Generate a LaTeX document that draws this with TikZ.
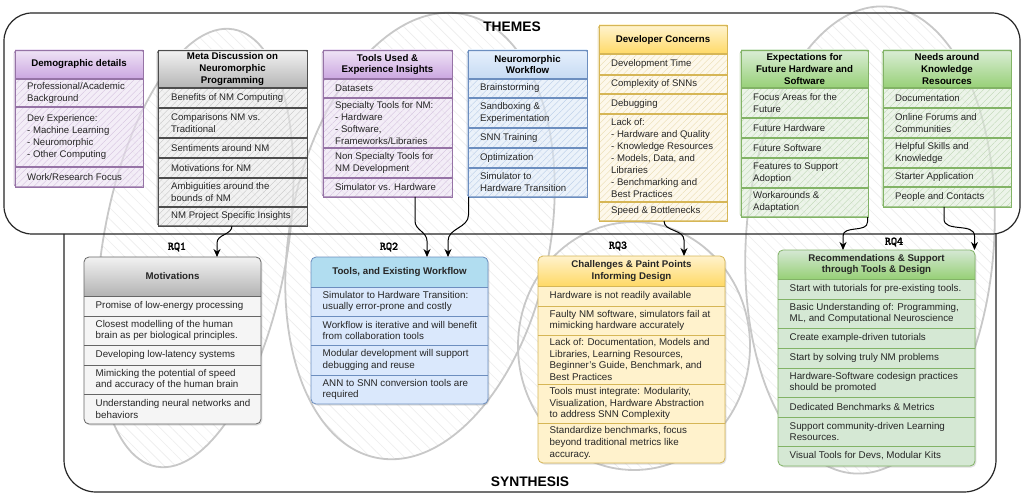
\documentclass[tikz,border=0pt]{standalone}
\usepackage{fontspec}
\setmainfont{Liberation Sans}
\newfontfamily\myrqfont{lmmono10-regular.otf}[FakeBold=2.2]
\usetikzlibrary{arrows.meta,patterns.meta,shadows,calc}

% theme colours
\definecolor{pfill}{HTML}{ECE2F2}\definecolor{phatch}{HTML}{D3C0DE}\definecolor{ptop}{HTML}{EFE3F6}\definecolor{pbot}{HTML}{CBA6E0}\definecolor{pline}{HTML}{9673A6}
\definecolor{gfill}{HTML}{EAEAEA}\definecolor{ghatch}{HTML}{C4C4C4}\definecolor{gtop}{HTML}{F2F2F2}\definecolor{gbot}{HTML}{B5B5B5}\definecolor{gline}{HTML}{4D4D4D}
\definecolor{bfill}{HTML}{DFEAF8}\definecolor{bhatch}{HTML}{B6CBE7}\definecolor{btop}{HTML}{E6F0FC}\definecolor{bbot}{HTML}{C6DAF3}\definecolor{bline}{HTML}{6C8EBF}
\definecolor{yfill}{HTML}{FCF4DE}\definecolor{yhatch}{HTML}{E9DBAE}\definecolor{ytop}{HTML}{FFF4D0}\definecolor{ybot}{HTML}{FFD966}\definecolor{yline}{HTML}{D6B656}
\definecolor{gnfill}{HTML}{E0EDDB}\definecolor{gnhatch}{HTML}{BDD6B3}\definecolor{gntop}{HTML}{DAEDD6}\definecolor{gnbot}{HTML}{97D077}\definecolor{gnline}{HTML}{82B366}
% synthesis colours
\definecolor{s1row}{HTML}{F5F5F5}\definecolor{s1top}{HTML}{F2F2F2}\definecolor{s1bot}{HTML}{B3B3B3}\definecolor{s1line}{HTML}{666666}
\definecolor{s2row}{HTML}{DAE8FC}\definecolor{s2top}{HTML}{B1DDF0}\definecolor{s2bot}{HTML}{B1DDF0}\definecolor{s2line}{HTML}{6C8EBF}
\definecolor{s3row}{HTML}{FFF2CC}\definecolor{s3top}{HTML}{FFF2CC}\definecolor{s3bot}{HTML}{FFD966}\definecolor{s3line}{HTML}{D6B656}
\definecolor{s4row}{HTML}{D5E8D4}\definecolor{s4top}{HTML}{D5E8D4}\definecolor{s4bot}{HTML}{97D077}\definecolor{s4line}{HTML}{82B366}
\definecolor{ellc}{HTML}{C8C8C8}\definecolor{hatchc}{HTML}{EDEDED}

\newcommand\mytfont{\fontsize{9.6}{12}\selectfont}
\newcommand\mythfont{\fontsize{9.7}{11.9}\selectfont\bfseries}
\newcommand\mysynfont{\fontsize{9.8}{11.9}\selectfont}

% theme box: name, prefix, x, y, w, h, header height, header text
\newcommand\mythemebox[8]{%
  \path[fill=#2fill, fill opacity=0.6] (#3,#4) rectangle ++(#5,#6);
  \path[pattern={Lines[angle=45,distance=4.5pt,line width=0.35pt]}, pattern color=#2hatch] (#3,#4) rectangle ++(#5,#6);
  \shade[top color=#2top, bottom color=#2bot] (#3,#4) rectangle ++(#5,#7);
  \draw[#2line, line width=1.2pt] ($(#3,#4)+(0,#7)$) -- ++(#5,0);
  \node[tframe, draw=#2line, minimum width=#5pt, minimum height=#6pt] (#1) at (#3,#4) {};
  \draw[#2line, line width=0.5pt, rounded corners=2pt] ($(#3,#4)+(-0.8,0.9)$) rectangle ($(#3,#4)+(#5+0.7,#6-0.6)$);
  \node[thtext] (#1h) at ($(#3,#4)+(#5/2,#7/2)$) {#8};
}
% theme separator: prefix, x, y, w
\newcommand\mytsep[4]{\draw[#1line, line width=1.1pt] (#2,#3) -- ++(#4,0);}
% synthesis box: name, prefix, x, y, w, h, header height, header text
\newcommand\mysynbox[8]{%
  \path[fill=#2row, rounded corners=5pt, sshadow] (#3,#4) rectangle ++(#5,#6);
  \begin{scope}
    \clip[rounded corners=5pt] (#3,#4) rectangle ++(#5,#6);
    \shade[top color=#2top, bottom color=#2bot] (#3,#4) rectangle ++(#5,#7);
  \end{scope}
  \draw[#2line, line width=0.8pt] ($(#3,#4)+(0,#7)$) -- ++(#5,0);
  \node[sframe, draw=#2line, minimum width=#5pt, minimum height=#6pt] (#1) at (#3,#4) {};
  \node[shtext] (#1h) at ($(#3,#4)+(#5/2,#7/2)$) {#8};
}
\newcommand\myssep[4]{\draw[#1line, line width=0.8pt] (#2,#3) -- ++(#4,0);}

\begin{document}
\begin{tikzpicture}[x=1pt,y=-1pt,
  container/.style={draw=black!85, line width=1.2pt},
  bgell/.style={pattern={Lines[angle=-45,distance=8pt,line width=0.6pt]}, pattern color=hatchc},
  bgline/.style={draw=ellc, line width=1.8pt},
  tframe/.style={anchor=north west, inner sep=0pt, outer sep=0pt, line width=0.9pt},
  sframe/.style={anchor=north west, inner sep=0pt, outer sep=0pt, line width=0.8pt, rounded corners=5pt},
  sshadow/.style={drop shadow={shadow xshift=1.3pt, shadow yshift=-1.5pt, opacity=0.25}},
  thtext/.style={inner sep=0pt, align=center, font=\mythfont},
  shtext/.style={inner sep=0pt, align=center, font=\mythfont, text=black!85},
  trtext/.style={anchor=west, inner sep=0pt, align=left, font=\mytfont, text=black!85},
  srtext/.style={anchor=west, inner sep=0pt, align=left, font=\mysynfont, text=black!85},
  rqlbl/.style={inner sep=0pt, font=\fontsize{11.5}{11.5}\selectfont\myrqfont},
  biglbl/.style={inner sep=0pt, font=\fontsize{13.8}{14}\selectfont\bfseries},
  conn/.style={draw=black, line width=1pt, -{Stealth[length=8pt,width=7pt]}}
]
\useasboundingbox (0,0) rectangle (1024,494);
\fill[white] (0,0) rectangle (1024,494);

% background ellipses
\path[bgell] (195,248) ellipse [x radius=92pt, y radius=222pt, rotate=-10];
\path[bgell] (420,236) ellipse [x radius=130pt, y radius=226pt, rotate=-11];
\path[bgell] (634,346) ellipse [x radius=116pt, y radius=124pt];
\path[bgell] (870,240) ellipse [x radius=124pt, y radius=234pt, rotate=-4];
\path[bgline] (195,248) ellipse [x radius=92pt, y radius=222pt, rotate=-10];
\path[bgline] (420,236) ellipse [x radius=130pt, y radius=226pt, rotate=-11];
\path[bgline] (634,346) ellipse [x radius=116pt, y radius=124pt];
\path[bgline] (870,240) ellipse [x radius=124pt, y radius=234pt, rotate=-4];

% containers
\node[container, rounded corners=28pt, minimum width=1016pt, minimum height=221pt, anchor=north west, inner sep=0pt, outer sep=0pt] (themes) at (4,13) {};
\draw[container, rounded corners=32pt] (64,234) -- (64,492) -- (996,492) -- (996,234);
\node[biglbl] (themeslbl) at (512,27) {THEMES};
\node[biglbl] (synlbl) at (530,482) {SYNTHESIS};

% ---------------- theme boxes ----------------
\mythemebox{dem}{p}{15}{50}{128}{137}{29}{Demographic details}
\mytsep{p}{15}{107}{128}\mytsep{p}{15}{167}{128}
\node[trtext] (dem1) at (27,93) {Professional/Academic\\Background};
\node[trtext] (dem2) at (27,137) {Dev Experience:\\- Machine Learning\\- Neuromorphic\\- Other Computing};
\node[trtext] (dem3) at (27,177) {Work/Research Focus};

\mythemebox{meta}{g}{158}{50}{149}{176}{38}{Meta Discussion on\\Neuromorphic\\Programming}
\mytsep{g}{158}{108}{149}\mytsep{g}{158}{138}{149}\mytsep{g}{158}{158}{149}\mytsep{g}{158}{178}{149}\mytsep{g}{158}{207}{149}
\node[trtext] (meta1) at (171,98) {Benefits of NM Computing};
\node[trtext] (meta2) at (171,123) {Comparisons NM vs.\\Traditional};
\node[trtext] (meta3) at (171,148) {Sentiments around NM};
\node[trtext] (meta4) at (171,168) {Motivations for NM};
\node[trtext] (meta5) at (171,192.5) {Ambiguities around the\\bounds of NM};
\node[trtext] (meta6) at (171,216.5) {NM Project Specific Insights};

\mythemebox{tools}{p}{323}{50}{129}{147}{29}{Tools Used \&\\Experience Insights}
\mytsep{p}{323}{98}{129}\mytsep{p}{323}{148}{129}\mytsep{p}{323}{178}{129}
\node[trtext] (tools1) at (335,88.5) {Datasets};
\node[trtext] (tools2) at (335,123) {Specialty Tools for NM:\\- Hardware\\- Software,\\Frameworks/Libraries};
\node[trtext] (tools3) at (335,163) {Non Specialty Tools for\\NM Development};
\node[trtext] (tools4) at (335,187.5) {Simulator vs. Hardware};

\mythemebox{wf}{b}{468}{50}{119}{147}{29}{Neuromorphic\\Workflow}
\mytsep{b}{468}{98}{119}\mytsep{b}{468}{128}{119}\mytsep{b}{468}{148}{119}\mytsep{b}{468}{168}{119}
\node[trtext] (wf1) at (480,88.5) {Brainstorming};
\node[trtext] (wf2) at (480,113) {Sandboxing \&\\Experimentation};
\node[trtext] (wf3) at (480,138) {SNN Training};
\node[trtext] (wf4) at (480,158) {Optimization};
\node[trtext] (wf5) at (480,182.5) {Simulator to\\Hardware Transition};

\mythemebox{dev}{y}{599}{25}{128}{196}{29}{Developer Concerns}
\mytsep{y}{599}{75}{128}\mytsep{y}{599}{94}{128}\mytsep{y}{599}{114}{128}\mytsep{y}{599}{202}{128}
\node[trtext] (dev1) at (611,64.5) {Development Time};
\node[trtext] (dev2) at (611,84.5) {Complexity of SNNs};
\node[trtext] (dev3) at (611,104) {Debugging};
\node[trtext] (dev4) at (611,158) {Lack of:\\- Hardware and Quality\\- Knowledge Resources\\- Models, Data, and\\Libraries\\- Benchmarking and\\Best Practices};
\node[trtext] (dev5) at (611,211.5) {Speed \& Bottlenecks};

\mythemebox{exp}{gn}{741}{50}{127}{167}{38}{Expectations for\\Future Hardware and\\Software}
\mytsep{gn}{741}{118}{127}\mytsep{gn}{741}{138}{127}\mytsep{gn}{741}{158}{127}\mytsep{gn}{741}{188}{127}
\node[trtext] (exp1) at (753,103) {Focus Areas for the\\Future};
\node[trtext] (exp2) at (753,128) {Future Hardware};
\node[trtext] (exp3) at (753,148) {Future Software};
\node[trtext] (exp4) at (753,173) {Features to Support\\Adoption};
\node[trtext] (exp5) at (753,202.5) {Workarounds \&\\Adaptation};

\mythemebox{needs}{gn}{883}{50}{128}{157}{38}{Needs around\\Knowledge\\Resources}
\mytsep{gn}{883}{108}{128}\mytsep{gn}{883}{138}{128}\mytsep{gn}{883}{168}{128}\mytsep{gn}{883}{187}{128}
\node[trtext] (needs1) at (895,98) {Documentation};
\node[trtext] (needs2) at (895,123) {Online Forums and\\Communities};
\node[trtext] (needs3) at (895,153) {Helpful Skills and\\Knowledge};
\node[trtext] (needs4) at (895,177.5) {Starter Application};
\node[trtext] (needs5) at (895,197) {People and Contacts};

% ---------------- synthesis boxes ----------------
\mysynbox{rq1}{s1}{84}{257}{177}{167}{39}{Motivations}
\myssep{s1}{84}{316}{177}\myssep{s1}{84}{345}{177}\myssep{s1}{84}{365}{177}\myssep{s1}{84}{394}{177}
\node[srtext] (rq1a) at (95.5,306) {Promise of low-energy processing};
\node[srtext] (rq1b) at (95.5,330.5) {Closest modelling of the human\\brain as per biological principles.};
\node[srtext] (rq1c) at (95.5,355) {Developing low-latency systems};
\node[srtext] (rq1d) at (95.5,379.5) {Mimicking the potential of speed\\and accuracy of the human brain};
\node[srtext] (rq1e) at (95.5,409) {Understanding neural networks and\\behaviors};

\mysynbox{rq2}{s2}{311}{257}{177}{147}{30}{Tools, and Existing Workflow}
\myssep{s2}{311}{316}{177}\myssep{s2}{311}{345}{177}\myssep{s2}{311}{375}{177}
\node[srtext] (rq2a) at (322.5,301.5) {Simulator to Hardware Transition:\\usually error-prone and costly};
\node[srtext] (rq2b) at (322.5,330.5) {Workflow is iterative and will benefit\\from collaboration tools};
\node[srtext] (rq2c) at (322.5,360) {Modular development will support\\debugging and reuse};
\node[srtext] (rq2d) at (322.5,389.5) {ANN to SNN conversion tools are\\required};

\mysynbox{rq3}{s3}{538}{256}{187}{207}{30}{Challenges \& Paint Points\\Informing Design}
\myssep{s3}{538}{306}{187}\myssep{s3}{538}{335}{187}\myssep{s3}{538}{384}{187}\myssep{s3}{538}{423}{187}
\node[srtext] (rq3a) at (549.5,296) {Hardware is not readily available};
\node[srtext] (rq3b) at (549.5,320.5) {Faulty NM software, simulators fail at\\mimicking hardware accurately};
\node[srtext] (rq3c) at (549.5,359.5) {Lack of: Documentation, Models and\\Libraries, Learning Resources,\\Beginner's Guide, Benchmark, and\\Best Practices};
\node[srtext] (rq3d) at (549.5,403.5) {Tools must integrate: Modularity,\\Visualization, Hardware Abstraction\\to address SNN Complexity};
\node[srtext] (rq3e) at (549.5,443) {Standardize benchmarks, focus\\beyond traditional metrics like\\accuracy.};

\mysynbox{rq4}{s4}{778}{250}{197}{216}{29}{Recommendations \& Support\\through Tools \& Design}
\myssep{s4}{778}{299}{197}\myssep{s4}{778}{328}{197}\myssep{s4}{778}{348}{197}\myssep{s4}{778}{368}{197}\myssep{s4}{778}{397}{197}\myssep{s4}{778}{417}{197}\myssep{s4}{778}{446}{197}
\node[srtext] (rq4a) at (789.5,289) {Start with tutorials for pre-existing tools.};
\node[srtext] (rq4b) at (789.5,313.5) {Basic Understanding of: Programming,\\ML, and Computational Neuroscience};
\node[srtext] (rq4c) at (789.5,338) {Create example-driven tutorials};
\node[srtext] (rq4d) at (789.5,358) {Start by solving truly NM problems};
\node[srtext] (rq4e) at (789.5,382.5) {Hardware-Software codesign practices\\should be promoted};
\node[srtext] (rq4f) at (789.5,407) {Dedicated Benchmarks \& Metrics};
\node[srtext] (rq4g) at (789.5,431.5) {Support community-driven Learning\\Resources.};
\node[srtext] (rq4h) at (789.5,456) {Visual Tools for Devs, Modular Kits};

% RQ labels
\node[rqlbl] (rq1l) at (177,247) {RQ1};
\node[rqlbl] (rq2l) at (389,247) {RQ2};
\node[rqlbl] (rq3l) at (618,246) {RQ3};
\node[rqlbl] (rq4l) at (894,242) {RQ4};

% connectors
\draw[conn] ([xshift=74pt]meta.south west) to[out=-90,in=90] ([xshift=133pt,yshift=14pt]rq1.north west) -- ([xshift=133pt]rq1.north west);
\draw[conn] ([xshift=92pt]tools.south west) -- ([xshift=92pt,yshift=-24pt]tools.south west) to[out=-90,in=90] ([xshift=116pt,yshift=16pt]rq2.north west) -- ([xshift=116pt]rq2.north west);
\draw[conn] ([xshift=0.5pt]wf.south west) -- ([xshift=0.5pt,yshift=-18pt]wf.south west) to[out=-90,in=90] ([xshift=137pt,yshift=16pt]rq2.north west) -- ([xshift=137pt]rq2.north west);
\draw[conn] ([xshift=65pt]dev.south west) to[out=-90,in=90] ([xshift=146pt,yshift=16pt]rq3.north west) -- ([xshift=146pt]rq3.north west);
\draw[conn] ([xshift=-0.5pt]exp.south east) -- ([xshift=-0.5pt,yshift=-5pt]exp.south east) to[out=-90,in=90] ([xshift=65pt,yshift=14pt]rq4.north west) -- ([xshift=65pt]rq4.north west);
\draw[conn] ([xshift=61pt]needs.south west) -- ([xshift=61pt,yshift=-12pt]needs.south west) to[out=-90,in=90] ([xshift=-0.5pt,yshift=14pt]rq4.north east) -- ([xshift=-0.5pt]rq4.north east);
\end{tikzpicture}
\end{document}
